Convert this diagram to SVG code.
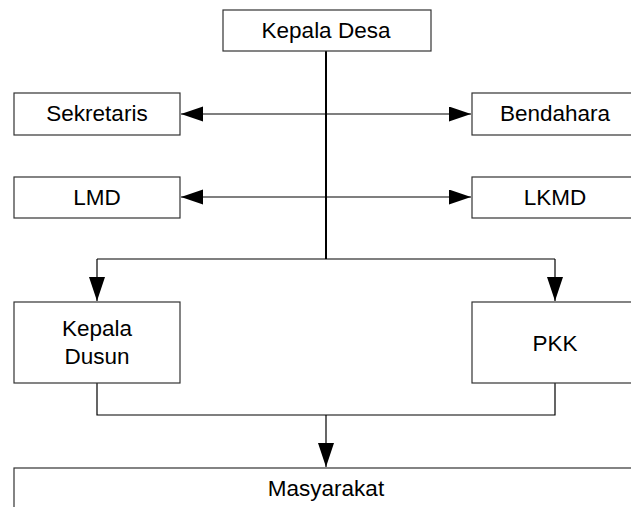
<svg xmlns="http://www.w3.org/2000/svg" width="631" height="507" viewBox="0 0 631 507">
<style>
.box{fill:#fff;stroke:#333;stroke-width:1.2}
.t{font-family:"Liberation Sans",Arial,sans-serif;font-size:22.5px;fill:#000;text-anchor:middle}
.ln{fill:none;stroke:#000;stroke-width:1.2}
.main{fill:none;stroke:#000;stroke-width:2}
</style>
<defs>
<marker id="ah" markerUnits="userSpaceOnUse" markerWidth="24" markerHeight="16" refX="22" refY="7.5" orient="auto-start-reverse">
<path d="M0,0 L22,7.5 L0,15 Z" fill="#000"/>
</marker>
<marker id="av" markerUnits="userSpaceOnUse" markerWidth="26" markerHeight="18" refX="24" refY="8" orient="auto">
<path d="M0,0 L24,8 L0,16 Z" fill="#000"/>
</marker>
</defs>
<rect width="631" height="507" fill="#fff"/>
<g id="connectors">
<line class="main" x1="326" y1="51" x2="326" y2="259"/>
<line class="ln" x1="181" y1="114" x2="471" y2="114" marker-start="url(#ah)" marker-end="url(#ah)"/>
<line class="ln" x1="181" y1="197" x2="471" y2="197" marker-start="url(#ah)" marker-end="url(#ah)"/>
<line class="ln" x1="97" y1="259" x2="555" y2="259"/>
<line class="ln" x1="97" y1="259" x2="97" y2="301" marker-end="url(#av)"/>
<line class="ln" x1="555" y1="259" x2="555" y2="301" marker-end="url(#av)"/>
<polyline class="ln" points="97,383 97,415 555,415 555,383"/>
<line class="ln" x1="326" y1="415" x2="326" y2="467" marker-end="url(#av)"/>
</g>
<g id="kepala-desa"><rect class="box" x="223" y="10" width="208" height="41"/><text class="t" x="326" y="38">Kepala Desa</text></g>
<g id="sekretaris"><rect class="box" x="14" y="93" width="166" height="42"/><text class="t" x="97" y="121">Sekretaris</text></g>
<g id="bendahara"><rect class="box" x="472" y="93" width="166" height="42"/><text class="t" x="555" y="121">Bendahara</text></g>
<g id="lmd"><rect class="box" x="14" y="177" width="166" height="41"/><text class="t" x="97" y="205">LMD</text></g>
<g id="lkmd"><rect class="box" x="472" y="177" width="166" height="41"/><text class="t" x="555" y="205">LKMD</text></g>
<g id="kepala-dusun"><rect class="box" x="14" y="302" width="166" height="81"/><text class="t" x="97" y="336">Kepala</text><text class="t" x="97" y="364">Dusun</text></g>
<g id="pkk"><rect class="box" x="472" y="302" width="166" height="81"/><text class="t" x="555" y="351">PKK</text></g>
<g id="masyarakat"><rect class="box" x="14" y="468" width="624" height="50"/><text class="t" x="326" y="496">Masyarakat</text></g>
</svg>
